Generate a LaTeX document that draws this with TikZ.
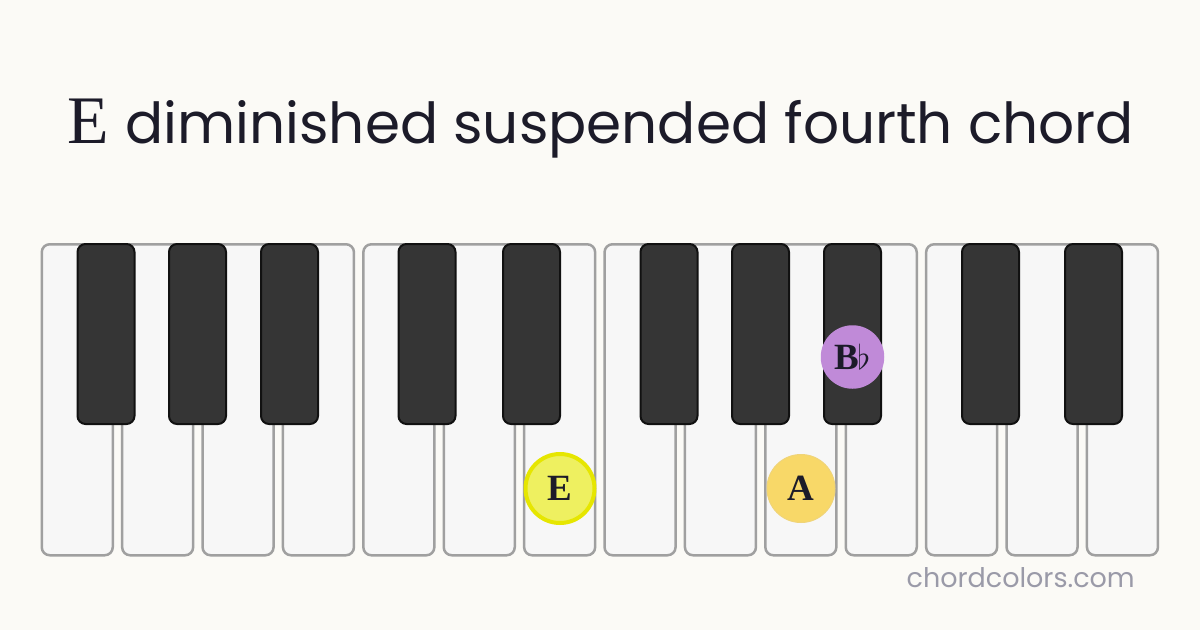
\RequirePackage{fix-cm}
\documentclass[tikz,border=0pt]{standalone}
\usepackage{fontspec}
\setmainfont{Liberation Serif}
\newfontfamily\titlesans{Poppins}
\newfontfamily\notefont{Liberation Serif}
\definecolor{bgc}{RGB}{251,250,246}
\definecolor{wkfill}{RGB}{247,247,247}
\definecolor{wkline}{RGB}{160,160,160}
\definecolor{bkfill}{RGB}{53,53,53}
\definecolor{bkline}{RGB}{17,17,17}
\definecolor{ink}{RGB}{28,27,41}
\definecolor{efill}{RGB}{238,240,96}
\definecolor{eline}{RGB}{230,230,0}
\definecolor{afill}{RGB}{248,216,104}
\definecolor{aline}{RGB}{240,212,120}
\definecolor{bfill}{RGB}{192,138,216}
\definecolor{wmark}{RGB}{154,154,168}
\tikzset{
  whitekey/.style={draw=wkline, fill=wkfill, line width=2.5pt, rounded corners=8pt,
    minimum width=71pt, minimum height=311pt, inner sep=0pt, anchor=north west},
  blackkey/.style={draw=bkline, fill=bkfill, line width=2pt, rounded corners=8pt,
    minimum width=57pt, minimum height=180pt, inner sep=0pt, anchor=north west},
  notedot/.style={circle, inner sep=0pt, font=\notefont\bfseries\fontsize{37}{37}\selectfont, text=ink},
}
\begin{document}
\begin{tikzpicture}[x=1pt,y=-1pt]
\fill[bgc] (0,0) rectangle (1200,630);
\useasboundingbox (0,0) rectangle (1200,630);
% title
\node[anchor=base west, inner sep=0pt, text=ink, font=\notefont\fontsize{68}{68}\selectfont] (tE) at (67,143) {E};
\node[anchor=base west, inner sep=0pt, text=ink, font=\titlesans\fontsize{56.5}{56.5}\selectfont] (title) at (125,143) {diminished suspended fourth chord};
% white keys
\foreach \i in {0,...,13}{
  \node[whitekey] (w\i) at ({40.5+80.4*\i}, 243) {};
}
% black keys
\foreach \x [count=\j] in {76.5,168,260,397.5,502,639.5,731,823,961,1064}{
  \node[blackkey] (b\j) at (\x,243) {};
}
% notes
\node[notedot, draw=eline, fill=efill, line width=4pt, minimum size=69pt] (nE) at (560,488.5) {E};
\node[notedot, draw=aline, fill=afill, line width=1pt, minimum size=68pt] (nA) at (801,488.5) {A};
\node[notedot, fill=bfill, minimum size=63.5pt] (nB) at (852.5,357) {B\kern-2pt{\fontsize{34}{34}\selectfont$\flat$}};
% watermark
\node[anchor=base east, inner sep=0pt, text=wmark, font=\titlesans\fontsize{27}{27}\selectfont] (wm) at (1135,587) {chordcolors.com};
\end{tikzpicture}
\end{document}
